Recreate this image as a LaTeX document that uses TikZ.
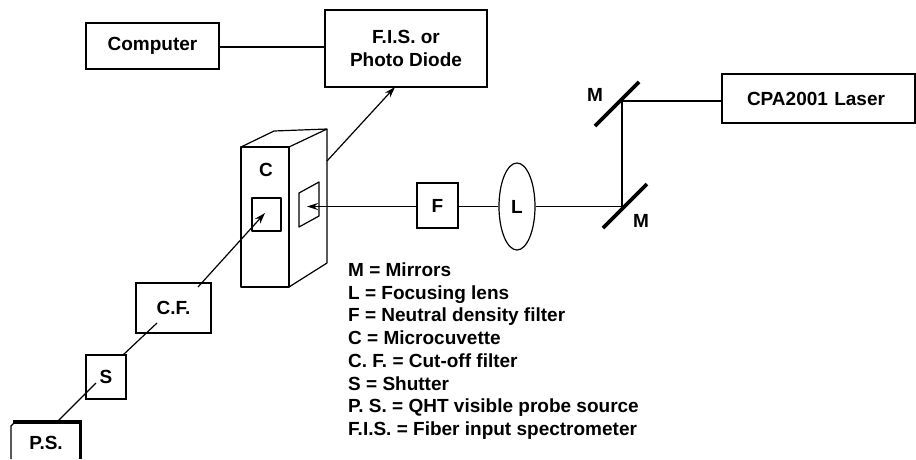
\documentclass[tikz,border=0pt]{standalone}
\usepackage{fontspec}
\setmainfont{Liberation Sans}
\usetikzlibrary{arrows.meta,shapes.geometric}
\tikzset{
    labeltext/.style={font=\fontsize{19}{22.7}\selectfont\bfseries, inner sep=0pt},
    partbox/.style={draw, line width=1.2pt, labeltext},
    beam/.style={line width=1.2pt},
    beamarrow/.style={beam, -{Stealth[length=11pt,width=7pt]}},
    mirrorbar/.style={line width=3.6pt},
    cuvetteline/.style={line width=1.2pt, line join=round},
}
\begin{document}
\begin{tikzpicture}[x=1pt,y=-1pt]
    \useasboundingbox (0,0) rectangle (916,459);
    % boxes
    \node[partbox, minimum width=133pt, minimum height=46pt] (computer) at (152.5,46) {Computer};
    \node[partbox, minimum width=162pt, minimum height=77pt, align=center] (fis) at (406,48.5) {F.I.S. or\\Photo Diode};
    \node[partbox, minimum width=193pt, minimum height=49pt, text width=143pt, align=left] (laser) at (818.5,98.5) {CPA2001 Laser};
    \node[partbox, minimum width=41pt, minimum height=45pt] (filter) at (437.5,205.5) {F};
    \node[partbox, ellipse, minimum width=36pt, minimum height=87pt] (lens) at (517,206.5) {L};
    \node[partbox, minimum width=75pt, minimum height=50pt] (cutoff) at (173.5,308) {C.F.};
    \node[partbox, minimum width=40pt, minimum height=44pt] (shutter) at (106,377) {S};
    \node[labeltext] (source) at (46,443) {P.S.};
    % probe source, cut off by the page
    \draw[line width=1.2pt] (11,459) -- (11,426) -- (15,422);
    \draw[line width=3.2pt] (13,422) -- (80.5,422) -- (80.5,459);
    % microcuvette
    \draw[cuvetteline] (241,147) rectangle (289,287);
    \draw[cuvetteline] (241,147) -- (274,131) -- (327,129) -- (289,147);
    \draw[cuvetteline] (327,129) -- (327,263) -- (289,287);
    \draw[cuvetteline] (252,198) rectangle (281,231);
    \draw[cuvetteline] (299,193) -- (319,182) -- (319,216) -- (299,227) -- cycle;
    \node[labeltext] (cuvette) at (266,170) {C};
    % mirrors
    \coordinate (mirrorA) at (622,101);
    \coordinate (mirrorB) at (622,206.5);
    \draw[mirrorbar] (595,126) -- (639,82);
    \draw[mirrorbar] (603,228) -- (647,184);
    \node[labeltext] (mlabelA) at (595,95) {M};
    \node[labeltext] (mlabelB) at (641,221) {M};
    % beam
    \coordinate (sidewindow) at (307,206.5);
    \coordinate (frontwindow) at (265,213);
    \coordinate (cuvetteexit) at (327,161);
    \coordinate (sourcetop) at (58,421);
    \coordinate (shutterin) at (96,383);
    \coordinate (shutterout) at (123,355);
    \coordinate (cutoffin) at (157,323);
    \coordinate (cutoffout) at (198,287);
    \coordinate (fisin) at (395,87);
    \draw[beam] (computer.east |- 0,47) -- (fis.west |- 0,47);
    \draw[beam] (laser.west |- mirrorA) -- (mirrorA) -- (mirrorB) -- (lens.east |- mirrorB);
    \draw[beam] (lens.west) -- (filter.east |- lens.west);
    \draw[beamarrow] (filter.west |- sidewindow) -- (sidewindow);
    \draw[beamarrow] (cuvetteexit) -- (fisin);
    \draw[beam] (sourcetop) -- (shutterin);
    \draw[beam] (shutterout) -- (cutoffin);
    \draw[beamarrow] (cutoffout) -- (frontwindow);
    % legend
    \foreach \ltext [count=\i] in {M = Mirrors, L = Focusing lens, F = Neutral density filter,
        C = Microcuvette, C. F. = Cut-off filter, S = Shutter,
        P. S. = QHT visible probe source, F.I.S. = Fiber input spectrometer}
        \node[labeltext, anchor=base west] (legend\i) at (348,{276.5+(\i-1)*22.7}) {\ltext};
\end{tikzpicture}
\end{document}
